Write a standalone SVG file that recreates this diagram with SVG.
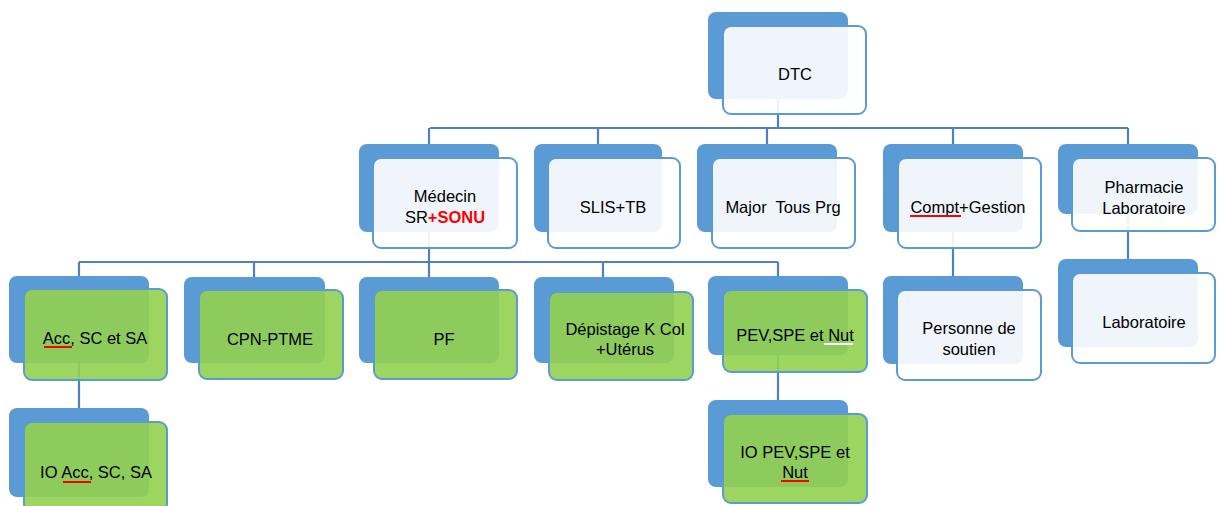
<svg xmlns="http://www.w3.org/2000/svg" width="1222" height="506" viewBox="0 0 1222 506">
<style>
.bk{fill:#5B9BD5}
.fr{fill:#FFFFFF;fill-opacity:0.9;stroke:#5B9BD5;stroke-width:2}
.gr{fill:#92D050;fill-opacity:0.9;stroke:#5B9BD5;stroke-width:2}
.cn{stroke:#4F81BD;stroke-width:2.2;fill:none}
text{font-family:"Liberation Sans",Arial,sans-serif;font-size:16.5px;fill:#000;text-anchor:middle}
.red{fill:#FF0000;font-weight:bold}
.ul{stroke:#FF0000;stroke-width:2}
.ulw{stroke:#FFFFFF;stroke-width:2}
</style>
<rect width="1222" height="506" fill="#FFFFFF"/>
<g id="backs">
<rect class="bk" x="708" y="12" width="140" height="87" rx="8"/>
<rect class="bk" x="359" y="144" width="140" height="88" rx="8"/>
<rect class="bk" x="534" y="144" width="128" height="88" rx="8"/>
<rect class="bk" x="697" y="144" width="140" height="88" rx="8"/>
<rect class="bk" x="883" y="144" width="140" height="88" rx="8"/>
<rect class="bk" x="1058" y="144" width="140" height="70" rx="8"/>
<rect class="bk" x="9" y="276" width="140" height="87" rx="8"/>
<rect class="bk" x="184" y="277" width="141" height="86" rx="8"/>
<rect class="bk" x="359" y="277" width="140" height="86" rx="8"/>
<rect class="bk" x="534" y="277" width="140" height="86" rx="8"/>
<rect class="bk" x="708" y="276" width="140" height="79" rx="8"/>
<rect class="bk" x="883" y="276" width="140" height="88" rx="8"/>
<rect class="bk" x="1058" y="259" width="140" height="88" rx="8"/>
<rect class="bk" x="9" y="408" width="140" height="89" rx="8"/>
<rect class="bk" x="708" y="400" width="140" height="87" rx="8"/>
</g>
<g id="connectors">
<path class="cn" d="M778 99V128M430 128H1128M429 128V144M598 128V144M767 128V144M953 128V144M1128 128V144"/>
<path class="cn" d="M429 232V262M79 262H778M79 262V276M254 262V277M429 262V277M603 262V277M778 262V276"/>
<path class="cn" d="M79 363V408M778 355V400M953 232V276M1128 214V259"/>
</g>
<g id="n-dtc"><rect class="fr" x="723" y="26" width="143" height="88" rx="8"/><text x="795" y="80">DTC</text></g>
<g id="n-medecin"><rect class="fr" x="373" y="158" width="144" height="90" rx="8"/><text x="445" y="202">Médecin</text><text x="445" y="223">SR<tspan class="red">+SONU</tspan></text></g>
<g id="n-slis"><rect class="fr" x="548" y="158" width="132" height="90" rx="8"/><text x="613" y="213">SLIS+TB</text></g>
<g id="n-major"><rect class="fr" x="712" y="158" width="143" height="90" rx="8"/><text x="783" y="213" xml:space="preserve">Major  Tous Prg</text></g>
<g id="n-compt"><rect class="fr" x="898" y="158" width="143" height="90" rx="8"/><text x="968" y="213">Compt+Gestion</text><line class="ul" x1="910" y1="216" x2="961" y2="216"/></g>
<g id="n-pharma"><rect class="fr" x="1072" y="158" width="143" height="73" rx="8"/><text x="1144" y="193">Pharmacie</text><text x="1144" y="214">Laboratoire</text></g>
<g id="n-acc"><rect class="gr" x="24" y="289" width="143" height="91" rx="8"/><text x="95" y="344">Acc, SC et SA</text><line class="ul" x1="44" y1="347" x2="72" y2="347"/></g>
<g id="n-cpn"><rect class="gr" x="199" y="290" width="144" height="89" rx="8"/><text x="270" y="345">CPN-PTME</text></g>
<g id="n-pf"><rect class="gr" x="374" y="290" width="143" height="89" rx="8"/><text x="444" y="345">PF</text></g>
<g id="n-depist"><rect class="gr" x="549" y="292" width="144" height="88" rx="8"/><text x="625" y="335">Dépistage K Col</text><text x="625" y="355">+Utérus</text></g>
<g id="n-pev"><rect class="gr" x="723" y="290" width="144" height="82" rx="8"/><text x="795" y="341">PEV,SPE et Nut</text><line class="ulw" x1="824" y1="344" x2="853" y2="344"/></g>
<g id="n-personne"><rect class="fr" x="897" y="290" width="144" height="90" rx="8"/><text x="969" y="334">Personne de</text><text x="969" y="355">soutien</text></g>
<g id="n-labo"><rect class="fr" x="1072" y="273" width="143" height="90" rx="8"/><text x="1144" y="328">Laboratoire</text></g>
<g id="n-ioacc"><rect class="gr" x="24" y="422" width="143" height="90" rx="8"/><text x="96" y="478">IO Acc, SC, SA</text><line class="ul" x1="63" y1="482" x2="91" y2="482"/></g>
<g id="n-iopev"><rect class="gr" x="723" y="414" width="144" height="89" rx="8"/><text x="795" y="458">IO PEV,SPE et</text><text x="795" y="478">Nut</text><line class="ul" x1="781" y1="481" x2="809" y2="481"/></g>
</svg>
